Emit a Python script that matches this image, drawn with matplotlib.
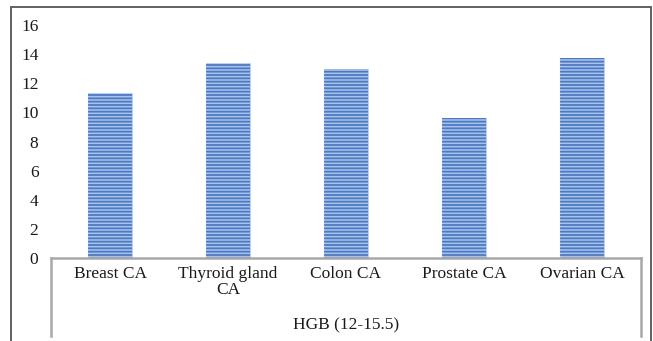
import matplotlib.pyplot as plt
from matplotlib.lines import Line2D
from matplotlib.patches import Rectangle

categories = ["Breast CA", "Thyroid gland\nCA", "Colon CA", "Prostate CA", "Ovarian CA"]
hgb_values = [11.3, 13.4, 13.0, 9.6, 13.7]
y_ticks = [0, 2, 4, 6, 8, 10, 12, 14, 16]
group_label = "HGB (12-15.5)"

plt.rcParams["font.family"] = ["Liberation Serif", "DejaVu Serif"]
plt.rcParams["hatch.linewidth"] = 1.3

W, H = 653, 341
fig = plt.figure(figsize=(W / 100, H / 100), dpi=100)

# axes in pixel terms: x 51..641, y 25..258 (from top)
ax = fig.add_axes([51 / W, 1 - 258 / H, 590 / W, 233 / H])
xs = range(len(categories))
# light base, then dark horizontal stripes on top
ax.bar(xs, hgb_values, width=0.38, color="#a9c2ea", edgecolor="#bcd0ef", linewidth=0.8)
ax.bar(xs, hgb_values, width=0.38, color="none", edgecolor="#4d7bc3",
       linewidth=0, hatch="-----")
ax.set_xlim(-0.5, len(categories) - 0.5)
ax.set_ylim(0, 16)
ax.set_yticks(y_ticks)
ax.set_yticklabels([str(t) for t in y_ticks], fontsize=12.5, color="#1a1a1a")
ax.tick_params(axis="y", length=0, pad=9)
ax.set_xticks(list(xs))
ax.set_xticklabels(categories, fontsize=12.5, linespacing=1.0, color="#1a1a1a")
ax.tick_params(axis="x", length=0, pad=6)
for s in ax.spines.values():
    s.set_visible(False)

# category box under the plot
box_col = "#a8a8a8"
x0, x1, yt, yb = 51 / W, 641 / W, 1 - 258 / H, 1 - 336 / H
fig.add_artist(Line2D([x0, x1], [yt, yt], color=box_col, lw=1.8, transform=fig.transFigure))
fig.add_artist(Line2D([x0, x0], [yt, yb], color=box_col, lw=1.8, transform=fig.transFigure))
fig.add_artist(Line2D([x1, x1], [yt, yb], color=box_col, lw=1.8, transform=fig.transFigure))
fig.text((51 + 641) / 2 / W, 1 - 325 / H, group_label, ha="center", va="center",
         fontsize=12.5, color="#1a1a1a")

# outer chart frame
fig.add_artist(Rectangle((11 / W, -0.05), (651 - 11) / W, 1 - 7 / H + 0.05,
                         fill=False, edgecolor="#555555", lw=1.3, transform=fig.transFigure))

fig.savefig("out.png", dpi=100)
